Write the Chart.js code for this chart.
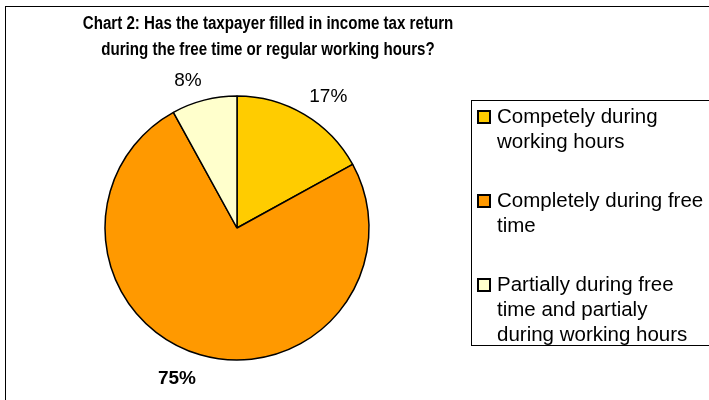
<!DOCTYPE html>
<html>
<head>
<meta charset="utf-8">
<script src="https://cdn.jsdelivr.net/npm/chart.js@4/dist/chart.umd.min.js"></script>
<style>
  html, body { margin: 0; padding: 0; background: #fff; }
  canvas { display: block; }
</style>
</head>
<body>
<canvas id="chart" width="709" height="400"></canvas>
<script>
// data
const titleLines = [
  "Chart 2: Has the taxpayer filled in income tax return",
  "during the free time or regular working hours?"
];
const categories = [
  ["Competely during", "working hours"],
  ["Completely during free", "time"],
  ["Partially during free", "time and partialy", "during working hours"]
];
const shares = [17, 75, 8];
const sliceColors = ["#FFCC00", "#FF9900", "#FFFFCC"];

const FONT = "'Liberation Sans', Arial, sans-serif";

// title, frame, legend box and percent labels
const extras = {
  id: "extras",
  beforeDraw(chart) {
    const ctx = chart.ctx;
    ctx.save();
    ctx.fillStyle = "#fff";
    ctx.fillRect(0, 0, chart.width, chart.height);
    ctx.strokeStyle = "#000";
    ctx.lineWidth = 1;
    ctx.strokeRect(5.5, 6.5, 720, 420);

    ctx.fillStyle = "#000";
    ctx.font = "bold 18px " + FONT;
    ctx.textAlign = "center";
    ctx.textBaseline = "alphabetic";
    titleLines.forEach(function (line, i) {
      ctx.save();
      ctx.translate(268, 29 + i * 26);
      ctx.scale(0.84, 1);
      ctx.fillText(line, 0, 0);
      ctx.restore();
    });
    ctx.restore();
  },
  afterDatasetsDraw(chart) {
    const ctx = chart.ctx;
    const meta = chart.getDatasetMeta(0);
    const data = chart.data.datasets[0].data;
    const total = data.reduce(function (a, b) { return a + b; }, 0);
    ctx.save();
    ctx.fillStyle = "#000";
    meta.data.forEach(function (arc, i) {
      const mid = (arc.startAngle + arc.endAngle) / 2;
      const below = Math.sin(mid) >= 0;
      const r = arc.outerRadius + (below ? 15 : 10);
      const x = arc.x + Math.cos(mid) * r;
      const y = arc.y + Math.sin(mid) * r;
      ctx.font = (i === 1 ? "bold " : "") + "19px " + FONT;
      ctx.textAlign = Math.cos(mid) >= 0 ? "left" : "right";
      ctx.textBaseline = below ? "top" : "bottom";
      ctx.fillText(Math.round(data[i] / total * 100) + "%", x, y);
    });

    // legend
    ctx.strokeStyle = "#000";
    ctx.lineWidth = 1;
    ctx.strokeRect(471.5, 100.5, 260, 245);
    ctx.font = "20.5px " + FONT;
    ctx.textAlign = "left";
    ctx.textBaseline = "middle";
    let y = 117;
    chart.data.labels.forEach(function (lines, i) {
      ctx.fillStyle = sliceColors[i];
      ctx.fillRect(478, y - 6, 12, 12);
      ctx.strokeStyle = "#000";
      ctx.lineWidth = 2;
      ctx.strokeRect(478, y - 6, 12, 12);
      ctx.fillStyle = "#000";
      lines.forEach(function (line, j) {
        ctx.fillText(line, 497, y + j * 25);
      });
      y += lines.length * 25 + 34;
    });
    ctx.restore();
  }
};

new Chart(document.getElementById("chart"), {
  type: "pie",
  data: {
    labels: categories,
    datasets: [{
      data: shares,
      backgroundColor: sliceColors,
      borderColor: "#000",
      borderWidth: 1.5
    }]
  },
  options: {
    responsive: false,
    animation: false,
    radius: 132,
    layout: { padding: { left: 87, right: 322, top: 78, bottom: 22 } },
    plugins: {
      legend: { display: false },
      title: { display: false },
      tooltip: { enabled: false }
    }
  },
  plugins: [extras]
});
</script>
</body>
</html>
